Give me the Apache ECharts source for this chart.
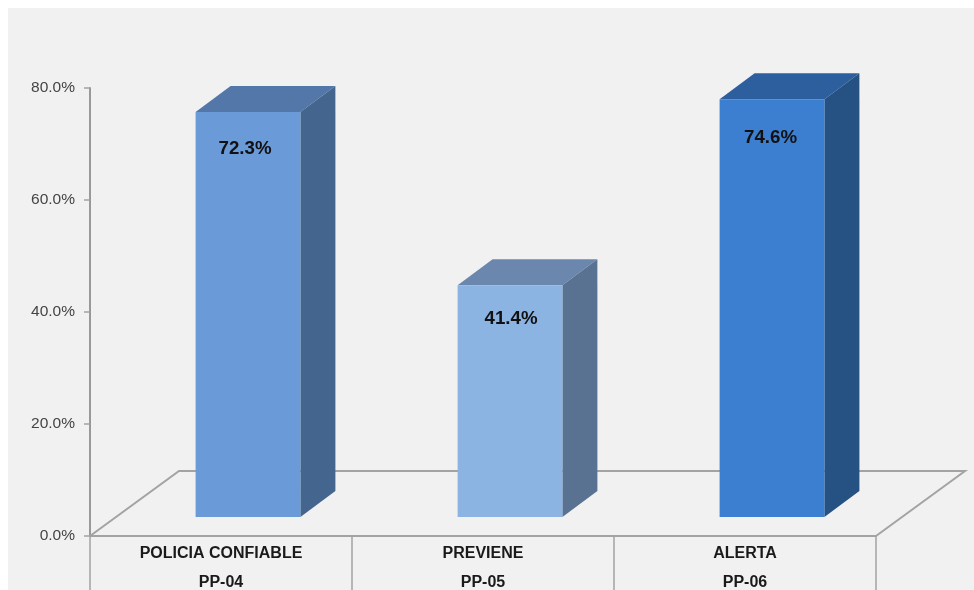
<!DOCTYPE html>
<html>
<head>
<meta charset="utf-8">
<title>PP-04 PP-05 PP-06</title>
<script src="https://cdn.jsdelivr.net/npm/echarts@6/dist/echarts.min.js"></script>
<style>
  html, body { margin: 0; padding: 0; background: #fff; overflow: hidden; }
  #panel { position: absolute; left: 8px; top: 8px; width: 966px; height: 582px; background: #f1f1f1; }
  #chart { position: absolute; left: 0; top: 0; width: 974px; height: 590px; }
</style>
</head>
<body>
<div id="panel"></div>
<div id="chart"></div>
<script>
const categories = ['POLICIA CONFIABLE', 'PREVIENE', 'ALERTA'];
const codes = ['PP-04', 'PP-05', 'PP-06'];
const values = [72.3, 41.4, 74.6];
const yTicks = { min: 0, max: 80, interval: 20 };

// front, top and side face of each box
const frontColors = ['#6a9ad8', '#8cb4e3', '#3c7ecf'];
const topColors = ['#5277a8', '#6b87ae', '#2d5f9e'];
const sideColors = ['#44668e', '#5a7291', '#265183'];
const labelDrops = [37, 34, 39];
const labelShifts = [-3, 1, -1.5];

// the floor goes back 89px right / 65px up, the boxes stand part way along it
const floorDx = 89, floorDy = 65;
const boxShiftX = 27, boxShiftY = 19;
const boxDx = 35, boxDy = 26;
const lineColor = '#a3a3a3';

function renderFloor(params, api) {
  const c = params.coordSys;
  const bottom = c.y + c.height;
  return {
    type: 'polyline',
    silent: true,
    shape: {
      points: [
        [c.x, bottom],
        [c.x + floorDx, bottom - floorDy],
        [c.x + c.width + floorDx, bottom - floorDy],
        [c.x + c.width, bottom]
      ]
    },
    style: { fill: null, stroke: lineColor, lineWidth: 2 }
  };
}

function renderBox(params, api) {
  const i = api.value(0);
  const top = api.coord([i, api.value(1)]);
  const base = api.coord([i, 0]);
  const w = api.size([1, 0])[0] * 0.4;
  const x0 = base[0] + boxShiftX - w / 2;
  const x1 = x0 + w;
  const y0 = top[1] - boxShiftY;
  const y1 = base[1] - boxShiftY;
  return {
    type: 'group',
    children: [
      {
        type: 'polygon',
        shape: { points: [[x0, y0], [x0 + boxDx, y0 - boxDy], [x1 + boxDx, y0 - boxDy], [x1, y0]] },
        style: { fill: topColors[i] }
      },
      {
        type: 'polygon',
        shape: { points: [[x1, y0], [x1 + boxDx, y0 - boxDy], [x1 + boxDx, y1 - boxDy], [x1, y1]] },
        style: { fill: sideColors[i] }
      },
      {
        type: 'rect',
        shape: { x: x0, y: y0, width: w, height: y1 - y0 },
        style: { fill: frontColors[i] }
      },
      {
        type: 'text',
        style: {
          x: (x0 + x1) / 2 + labelShifts[i],
          y: y0 + labelDrops[i],
          text: api.value(1).toFixed(1) + '%',
          fill: '#111',
          font: 'bold 18.7px "Liberation Sans", Arial, sans-serif',
          align: 'center',
          verticalAlign: 'middle'
        }
      }
    ]
  };
}

const myChart = echarts.init(document.getElementById('chart'), null, { renderer: 'canvas' });

const option = {
  animation: false,
  backgroundColor: 'transparent',
  grid: { left: 90, top: 88, width: 786, height: 448, containLabel: false, outerBoundsMode: 'none' },
  xAxis: {
    type: 'category',
    data: categories.map((name, i) => name + '\n' + codes[i]),
    axisLine: { lineStyle: { color: lineColor, width: 2 } },
    axisTick: { show: true, length: 56, lineStyle: { color: lineColor, width: 1.5 } },
    axisLabel: {
      color: '#1a1a1a',
      fontFamily: '"Liberation Sans", Arial, sans-serif',
      fontWeight: 'bold',
      fontSize: 16,
      lineHeight: 29,
      margin: 3,
      interval: 0
    },
    splitLine: { show: false }
  },
  yAxis: {
    type: 'value',
    min: yTicks.min,
    max: yTicks.max,
    interval: yTicks.interval,
    axisLine: { show: true, lineStyle: { color: '#999', width: 2 } },
    axisTick: { show: true, length: 6, lineStyle: { color: lineColor, width: 1.5 } },
    axisLabel: {
      color: '#444',
      fontFamily: '"Liberation Sans", Arial, sans-serif',
      fontSize: 15.5,
      margin: 15,
      formatter: v => v.toFixed(1) + '%'
    },
    splitLine: { show: false }
  },
  series: [
    {
      type: 'custom',
      coordinateSystem: 'cartesian2d',
      renderItem: renderFloor,
      data: [[0, 0]],
      silent: true,
      z: 1
    },
    {
      type: 'custom',
      coordinateSystem: 'cartesian2d',
      renderItem: renderBox,
      encode: { x: 0, y: 1 },
      data: values.map((v, i) => [i, v]),
      z: 2
    }
  ]
};

myChart.setOption(option);
</script>
</body>
</html>
